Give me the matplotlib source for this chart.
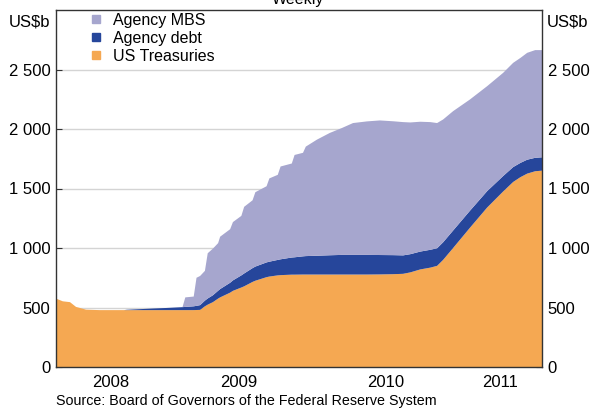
#!/usr/bin/env python3
"""Fed holdings of securities, weekly, stacked area (US$b)."""

import pandas as pd
import matplotlib
matplotlib.use("Agg")
import matplotlib.pyplot as plt
import matplotlib.dates as mdates
from matplotlib.lines import Line2D
from matplotlib.ticker import FixedLocator, FuncFormatter, NullFormatter


dates = [
	"2008-04-01", "2008-04-18", "2008-05-06", "2008-05-21", "2008-06-15", "2008-07-19",
	"2008-09-18", "2008-09-25", "2008-10-27", "2008-12-03", "2009-01-01", "2009-02-11",
	"2009-02-18", "2009-03-11", "2009-03-18", "2009-03-27", "2009-04-08", "2009-04-15",
	"2009-04-28", "2009-05-11", "2009-05-16", "2009-06-10", "2009-06-17", "2009-07-08",
	"2009-07-15", "2009-08-05", "2009-08-12", "2009-09-09", "2009-09-16", "2009-10-07",
	"2009-10-14", "2009-11-11", "2009-11-18", "2009-12-09", "2009-12-16", "2010-01-13",
	"2010-02-14", "2010-03-16", "2010-04-13", "2010-05-18", "2010-06-19", "2010-07-22",
	"2010-08-16", "2010-09-03", "2010-09-28", "2010-10-23", "2010-11-09", "2010-11-24",
	"2010-12-19", "2011-01-30", "2011-03-14", "2011-04-23", "2011-05-18", "2011-06-05",
	"2011-06-22", "2011-07-12", "2011-07-29",
]

us_treasuries = [
	575, 552, 545, 505, 482, 478,
	478, 478, 478, 478, 478, 478,
	478, 478, 479, 480, 510, 524,
	545, 575, 585, 625, 640, 668,
	678, 715, 725, 755, 760, 770,
	772, 776, 776, 777, 777, 777,
	777, 777, 777, 777, 778, 780,
	783, 795, 820, 835, 850, 900,
	1000, 1170, 1340, 1475, 1555, 1595,
	1625, 1645, 1650,
]

agency_debt = [
	0, 0, 0, 0, 0, 0,
	0, 3, 8, 14, 18, 25,
	27, 32, 35, 40, 48, 52,
	58, 66, 70, 83, 88, 102,
	108, 116, 119, 124, 125, 130,
	133, 144, 146, 153, 155, 158,
	162, 165, 165, 165, 163, 160,
	155, 153, 150, 150, 148, 148,
	147, 143, 138, 130, 125, 120,
	117, 113, 112,
]

agency_mbs = [
	0, 0, 0, 0, 0, 0,
	0, 0, 0, 0, 0, 0,
	80, 82, 236, 245, 250, 380,
	392, 400, 440, 450, 490, 500,
	560, 570, 625, 640, 700, 715,
	780, 790, 860, 870, 920, 976,
	1028, 1066, 1108, 1122, 1131, 1125,
	1120, 1107, 1091, 1073, 1052, 1032,
	1003, 935, 882, 867, 876, 882,
	898, 905, 901,
]

series_names = ["US Treasuries", "Agency debt", "Agency MBS"]
colours = ["#F5A852", "#26469B", "#A6A6CE"]
year_labels = ["2008", "2009", "2010", "2011"]
y_ticks = [0, 500, 1000, 1500, 2000, 2500]

W, H = 593, 408
AX_L, AX_R, AX_T, AX_B = 56, 542, 10, 367
FS = 11.5


def thousands(v, pos=None):
	return f"{int(round(v)):,}".replace(",", " ")


def main():
	plt.rcParams["font.family"] = ["Liberation Sans", "DejaVu Sans"]
	plt.rcParams["font.size"] = FS

	x = pd.to_datetime(dates)
	fig = plt.figure(figsize=(W / 100, H / 100), dpi=100)
	ax = fig.add_axes([AX_L / W, 1 - AX_B / H, (AX_R - AX_L) / W, (AX_B - AX_T) / H])

	ax.stackplot(x, us_treasuries, agency_debt, agency_mbs, colors=colours,
		linewidth=0, zorder=2)

	start, end = x[0], x[-1]
	ax.set_xlim(start, end)
	ax.set_ylim(0, 3000)

	# year boundaries as ticks, year names centred in the visible part of each year
	bounds = [pd.Timestamp(f"{y}-01-01") for y in (2009, 2010, 2011)]
	edges = [start] + bounds + [end]
	mids = [edges[i] + (edges[i + 1] - edges[i]) / 2 for i in range(len(edges) - 1)]
	ax.xaxis.set_major_locator(FixedLocator(mdates.date2num(bounds)))
	ax.xaxis.set_major_formatter(NullFormatter())
	ax.xaxis.set_minor_locator(FixedLocator(mdates.date2num(mids)))
	ax.xaxis.set_minor_formatter(FuncFormatter(lambda v, pos: year_labels[pos]))
	ax.tick_params(axis="x", which="major", direction="in", length=6, width=0.8, color="#333333")
	ax.tick_params(axis="x", which="minor", length=0, pad=6, labelsize=FS + 0.5)

	# y axis labelled on both sides, 3000 slot left for the unit
	ax.set_yticks(y_ticks)
	ax.yaxis.set_major_formatter(FuncFormatter(thousands))
	ax.tick_params(axis="y", which="major", direction="in", length=4, width=0.8,
		color="#333333", left=True, right=True, labelleft=True, labelright=True,
		pad=4, labelsize=FS + 0.5)
	ax.grid(axis="y", color="#d4d4d4", linewidth=1.0, zorder=0)
	ax.set_axisbelow(True)

	for s in ax.spines.values():
		s.set_color("#333333")
		s.set_linewidth(1.0)

	uy = (AX_B - 22) / (AX_B - AX_T)
	ax.text(-0.012, uy, "US$b", transform=ax.transAxes, ha="right", va="center", fontsize=FS + 0.5)
	ax.text(1.01, uy, "US$b", transform=ax.transAxes, ha="left", va="center", fontsize=FS + 0.5)

	handles = [Line2D([], [], marker="s", linestyle="none", markersize=6.2,
		markerfacecolor=c, markeredgecolor=c) for c in colours[::-1]]
	ax.legend(handles, series_names[::-1], loc="upper left",
		bbox_to_anchor=((92 - AX_L) / (AX_R - AX_L), 0.992), frameon=False,
		borderpad=0, borderaxespad=0, handlelength=0.5, handletextpad=0.8,
		labelspacing=0.18, fontsize=FS)

	# title sits mostly above the canvas, as in the source chart
	fig.text(298 / W, 1 - 4 / H, "Weekly", ha="center", va="baseline", fontsize=FS)
	fig.text(AX_L / W, 1 - 405 / H, "Source: Board of Governors of the Federal Reserve System",
		ha="left", va="baseline", fontsize=10.3)

	fig.savefig("out.png", dpi=100)
	plt.close(fig)


if __name__ == "__main__":
	main()
